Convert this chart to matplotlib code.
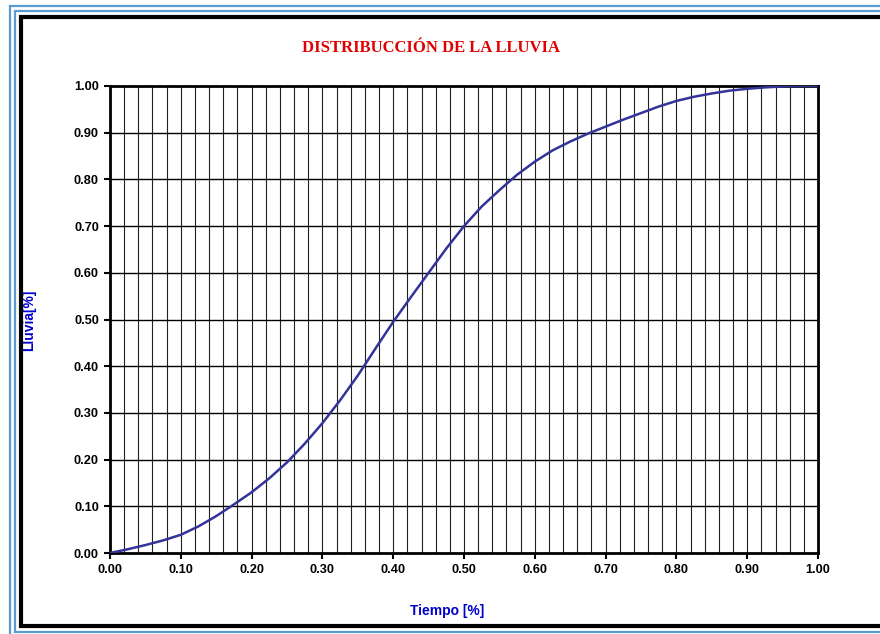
import numpy as np
import matplotlib
matplotlib.use("Agg")
import matplotlib.pyplot as plt
from matplotlib.lines import Line2D

# datos
tiempo = [0.000, 0.025, 0.050, 0.075, 0.100, 0.125, 0.150, 0.175, 0.200, 0.225,
          0.250, 0.275, 0.300, 0.325, 0.350, 0.375, 0.400, 0.425, 0.450, 0.475,
          0.500, 0.525, 0.550, 0.575, 0.600, 0.625, 0.650, 0.675, 0.700, 0.725,
          0.750, 0.775, 0.800, 0.825, 0.850, 0.875, 0.900, 0.925, 0.950, 0.975, 1.000]
lluvia = [0.000, 0.008, 0.017, 0.027, 0.039, 0.057, 0.079, 0.104, 0.130, 0.160,
          0.194, 0.234, 0.278, 0.327, 0.380, 0.438, 0.495, 0.548, 0.600, 0.652,
          0.700, 0.742, 0.777, 0.810, 0.838, 0.862, 0.881, 0.898, 0.913, 0.928,
          0.942, 0.956, 0.968, 0.977, 0.984, 0.990, 0.994, 0.997, 0.999, 1.000, 1.000]

ticks_x = [0.0, 0.1, 0.2, 0.3, 0.4, 0.5, 0.6, 0.7, 0.8, 0.9, 1.0]
ticks_y = [0.0, 0.1, 0.2, 0.3, 0.4, 0.5, 0.6, 0.7, 0.8, 0.9, 1.0]
grid_x = [i / 50 for i in range(1, 50)]

W, H = 880, 634
fig = plt.figure(figsize=(W / 100, H / 100), dpi=100)
ax = fig.add_axes([110 / W, 1 - 553 / H, 708 / W, 467 / H])

# rejilla
for gx in grid_x:
    ax.axvline(gx, color="#222222", lw=0.8, zorder=1)
for gy in ticks_y[1:-1]:
    ax.axhline(gy, color="black", lw=1.0, zorder=1)

ax.plot(tiempo, lluvia, color="#333399", lw=1.8, zorder=3,
        solid_joinstyle="round")

ax.set_xlim(0, 1)
ax.set_ylim(0, 1)
ax.set_xticks(ticks_x)
ax.set_yticks(ticks_y)
ax.set_xticklabels([f"{v:.2f}" for v in ticks_x])
ax.set_yticklabels([f"{v:.2f}" for v in ticks_y])
for lab in ax.get_xticklabels() + ax.get_yticklabels():
    lab.set_fontfamily("Liberation Sans")
    lab.set_fontweight("bold")
    lab.set_fontsize(9.2)
ax.tick_params(direction="out", length=4, width=1.5, pad=4)
for s in ax.spines.values():
    s.set_linewidth(2)
    s.set_color("black")

ax.set_xlabel("Tiempo [%]", fontfamily="Liberation Sans", fontweight="bold",
              fontsize=10, color="#0000CC", labelpad=0)
ax.xaxis.set_label_coords((447 - 110) / 708, -(604 - 553) / 467)
ax.set_ylabel("Lluvia[%]", fontfamily="Liberation Sans", fontweight="bold",
              fontsize=10, color="#0000CC")
ax.yaxis.set_label_coords(-(110 - 36) / 708, (553 - 320) / 467)

fig.text(431 / W, 1 - 48 / H, "DISTRIBUCCIÓN DE LA LLUVIA", color="#E00000",
         fontfamily="Liberation Serif", fontweight="bold", fontsize=12,
         ha="center", va="center")

# marcos
def marco(x0, y0, y1, color, lw):
    xs = [W + 20, x0, x0, W + 20]
    ys = [y0, y0, y1, y1]
    fig.add_artist(Line2D([x / W for x in xs], [1 - y / H for y in ys],
                          transform=fig.transFigure, color=color, lw=lw,
                          solid_joinstyle="miter"))

marco(9.5, 5.5, 640, "#5B9BD5", 1.6)
marco(14.5, 10.5, 632, "#5B9BD5", 1.6)
marco(21, 17, 626, "black", 3)

plt.savefig("out.png", dpi=100)
